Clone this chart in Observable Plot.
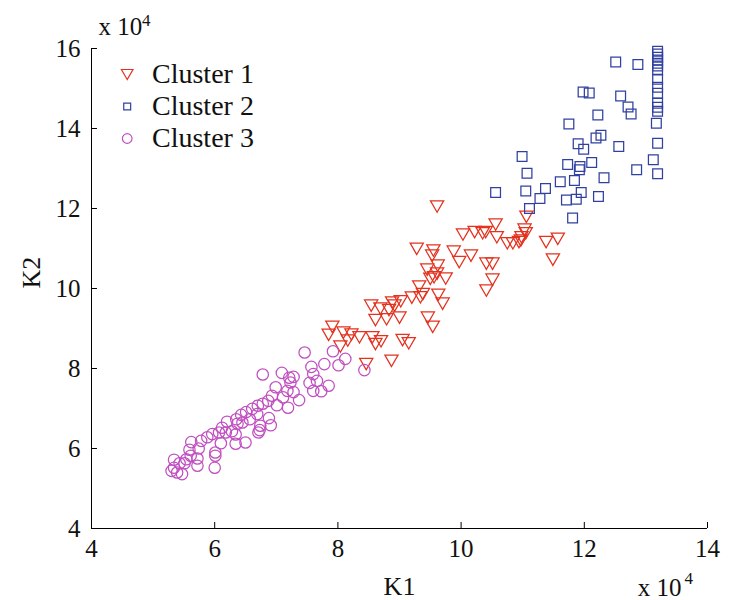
<!DOCTYPE html>
<html><head><meta charset="utf-8">
<script src="https://cdn.jsdelivr.net/npm/d3@7"></script>
<script src="https://cdn.jsdelivr.net/npm/@observablehq/plot@0.6"></script>
<style>html,body{margin:0;padding:0;background:#fff}</style>
</head><body><div id="chart"></div>
<script>
// Tick values (axis units are x 10^4)
const xTicks = [4, 6, 8, 10, 12, 14];
const yTicks = [4, 6, 8, 10, 12, 14, 16];
const seriesNames = ["Cluster 1", "Cluster 2", "Cluster 3"];
const seriesColors = ["#e3321f", "#3040a0", "#c050c0"];

// Cluster 1 (K1, K2)
const c1x = [9.61,11.06,10.56,10.03,10.22,10.35,10.40,10.58,10.75,10.84,10.97,11.03,11.05,10.98,10.94,11.38,11.57,11.49,9.28,9.55,9.53,9.88,10.16,9.97,10.41,10.51,9.62,9.45,9.61,9.75,9.50,9.56,10.51,10.41,9.32,9.38,9.34,9.20,9.63,9.70,8.54,8.69,8.88,9.02,8.83,8.92,8.61,8.79,9.00,9.46,9.54,7.91,7.85,8.09,8.22,8.16,8.35,8.56,8.61,8.70,9.05,9.15,8.04,8.46,8.87];
const c1y = [12.05,11.79,11.60,11.35,11.41,11.38,11.41,11.28,11.13,11.13,11.20,11.47,11.38,11.28,11.16,11.16,11.24,10.72,10.99,10.95,10.82,10.92,10.82,10.66,10.62,10.62,10.57,10.47,10.37,10.25,10.24,10.28,10.22,9.95,10.05,9.86,9.78,9.77,9.84,9.62,9.57,9.50,9.65,9.68,9.46,9.57,9.21,9.23,9.27,9.27,9.04,9.04,8.84,8.90,8.85,8.70,8.78,8.78,8.61,8.68,8.71,8.63,8.55,8.11,8.19];

// Cluster 2 (K1, K2)
const c2x = [13.19,13.19,13.19,13.19,13.19,13.19,13.19,13.19,13.19,13.19,13.19,13.19,13.19,13.17,13.19,13.19,
  12.51,12.87,13.12,11.98,12.08,12.59,12.71,12.76,12.22,11.75,11.90,11.99,12.19,12.27,12.56,10.99,11.73,11.93,11.92,12.12,12.85,11.07,11.61,11.84,12.32,10.56,11.05,11.37,11.28,11.11,11.71,11.87,11.95,12.23,11.81];
const c2y = [15.93,15.86,15.78,15.71,15.63,15.56,15.46,15.23,15.03,14.88,14.63,14.53,14.43,14.13,13.63,12.87,
  15.66,15.60,13.22,14.91,14.89,14.81,14.54,14.36,14.34,14.11,13.62,13.48,13.76,13.83,13.55,13.30,13.10,13.05,12.97,13.15,12.97,12.88,12.67,12.70,12.77,12.40,12.44,12.50,12.25,12.00,12.21,12.23,12.40,12.30,11.76];

// Cluster 3 (K1, K2)
const c3x = [7.46,7.92,8.12,8.01,7.78,7.57,7.60,7.54,7.66,7.60,7.73,7.85,8.43,6.78,7.09,7.21,7.28,7.23,6.99,7.18,7.28,7.11,7.37,6.93,6.87,6.78,6.70,6.61,7.01,7.19,6.51,6.43,6.35,6.37,6.45,6.57,6.69,6.88,6.91,6.73,6.71,6.20,6.12,6.18,6.28,6.34,6.07,5.96,5.88,5.78,5.62,6.10,6.34,6.50,5.74,5.59,6.01,6.01,6.00,5.72,5.72,5.61,5.54,5.51,5.43,5.34,5.34,5.30,5.39,5.47,6.74];
const c3y = [8.40,8.43,8.24,8.08,8.11,8.04,7.86,7.64,7.69,7.44,7.43,7.57,7.96,7.85,7.89,7.77,7.79,7.65,7.53,7.44,7.41,7.28,7.21,7.32,7.19,7.12,7.07,6.99,7.08,7.02,6.91,6.84,6.73,6.62,6.65,6.73,6.86,6.76,6.58,6.46,6.40,6.67,6.52,6.40,6.43,6.35,6.40,6.36,6.28,6.19,6.16,6.13,6.12,6.15,6.00,5.97,5.90,5.82,5.52,5.75,5.57,5.82,5.73,5.63,5.63,5.72,5.52,5.44,5.40,5.36,6.57];

const rows = (xs, ys) => xs.map((x, i) => ({k1: x, k2: ys[i]}));
const data = [rows(c1x, c1y), rows(c2x, c2y), rows(c3x, c3y)];

// downward triangle, centred on its bounding box
const triDown = {draw(ctx, size) {
  const y = Math.sqrt(size / (3 * Math.sqrt(3)));
  const w = Math.sqrt(3) * y;
  ctx.moveTo(0, 1.5 * y); ctx.lineTo(-w, -1.5 * y); ctx.lineTo(w, -1.5 * y); ctx.closePath();
}};
const symbols = [triDown, "square", "circle"];
const radii = [4.9, 5.5, 5.7];
const legendRadii = [4.3, 3.9, 4.8];

const font = "'Liberation Serif', 'Times New Roman', serif";
const marks = [
  Plot.ruleX([4], {stroke: "#000", strokeWidth: 1}),
  Plot.ruleY([4], {stroke: "#000", strokeWidth: 1}),
  Plot.axisX({ticks: xTicks, tickSize: -6, tickPadding: 17, label: null, fontSize: 25, fill: "#111", stroke: "#000"}),
  Plot.axisY({ticks: yTicks, tickSize: -6, tickPadding: 17, label: null, fontSize: 25, fill: "#111", stroke: "#000"}),
];
data.forEach((d, i) => {
  marks.push(Plot.dot(d, {x: "k1", y: "k2", symbol: symbols[i], r: radii[i], stroke: seriesColors[i], fill: "none", strokeWidth: 1.25}));
});
// legend
seriesNames.forEach((name, i) => {
  marks.push(Plot.dot([name], {frameAnchor: "top-left", dx: 35.7, dy: 26 + 32 * i, symbol: symbols[i], r: legendRadii[i], stroke: seriesColors[i], fill: "none", strokeWidth: 1.2}));
  marks.push(Plot.text([name], {frameAnchor: "top-left", dx: 60.5, dy: 26 + 32 * i, textAnchor: "start", lineAnchor: "middle", fontSize: 28, fill: "#111"}));
});
// axis titles and exponent labels
marks.push(
  Plot.text(["K1"], {frameAnchor: "bottom", dy: 58, lineAnchor: "middle", fontSize: 26, fill: "#111"}),
  Plot.text(["K2"], {frameAnchor: "left", dx: -60, rotate: -90, lineAnchor: "middle", fontSize: 26, fill: "#111"}),
  Plot.text(["x 10"], {frameAnchor: "top-left", dx: 7, dy: -22, textAnchor: "start", lineAnchor: "middle", fontSize: 25, fill: "#111"}),
  Plot.text(["4"], {frameAnchor: "top-left", dx: 50.5, dy: -28, textAnchor: "start", lineAnchor: "middle", fontSize: 17, fill: "#111"}),
  Plot.text(["x 10"], {frameAnchor: "bottom-right", dx: -26, dy: 59, textAnchor: "end", lineAnchor: "middle", fontSize: 25, fill: "#111"}),
  Plot.text(["4"], {frameAnchor: "bottom-right", dx: -23, dy: 50, textAnchor: "start", lineAnchor: "middle", fontSize: 17, fill: "#111"})
);

const chart = Plot.plot({
  width: 734, height: 600,
  marginLeft: 91, marginRight: 27, marginTop: 48, marginBottom: 72,
  x: {domain: [4, 14], label: null},
  y: {domain: [4, 16], label: null},
  style: {fontFamily: font, background: "#fff", color: "#111"},
  marks
});
document.getElementById("chart").appendChild(chart);
</script>
</body></html>
